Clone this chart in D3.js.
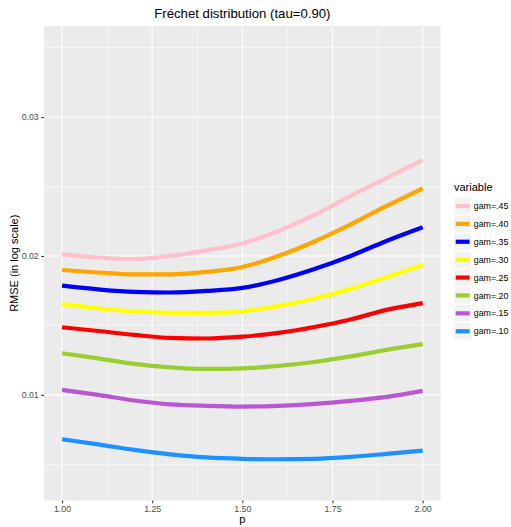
<!DOCTYPE html>
<html>
<head>
<meta charset="utf-8">
<script src="https://cdn.jsdelivr.net/npm/d3@7"></script>
<style>
  body { margin: 0; background: #fff; }
  text { font-family: "Liberation Sans", Arial, sans-serif; }
</style>
</head>
<body>
<script>
// data
var pValues = [1.0, 1.1, 1.2, 1.3, 1.4, 1.5, 1.6, 1.7, 1.8, 1.9, 2.0];
var gam45 = [0.02012, 0.01989, 0.01978, 0.02000, 0.02040, 0.02090, 0.02180, 0.02295, 0.02432, 0.02561, 0.02691];
var gam40 = [0.01899, 0.01881, 0.01867, 0.01867, 0.01885, 0.01921, 0.02000, 0.02104, 0.02227, 0.02360, 0.02487];
var gam35 = [0.01786, 0.01759, 0.01741, 0.01737, 0.01748, 0.01770, 0.01827, 0.01906, 0.02000, 0.02108, 0.02206];
var gam30 = [0.01653, 0.01622, 0.01601, 0.01590, 0.01590, 0.01601, 0.01640, 0.01694, 0.01763, 0.01849, 0.01935];
var gam25 = [0.01487, 0.01460, 0.01432, 0.01410, 0.01406, 0.01419, 0.01446, 0.01489, 0.01543, 0.01612, 0.01660];
var gam20 = [0.01300, 0.01263, 0.01223, 0.01198, 0.01187, 0.01191, 0.01209, 0.01237, 0.01277, 0.01324, 0.01365];
var gam15 = [0.01036, 0.01000, 0.00960, 0.00932, 0.00921, 0.00916, 0.00921, 0.00935, 0.00957, 0.00986, 0.01029];
var gam10 = [0.00681, 0.00644, 0.00604, 0.00572, 0.00550, 0.00540, 0.00537, 0.00540, 0.00554, 0.00576, 0.00599];

var seriesNames = ["gam=.45", "gam=.40", "gam=.35", "gam=.30", "gam=.25", "gam=.20", "gam=.15", "gam=.10"];
var seriesValues = [gam45, gam40, gam35, gam30, gam25, gam20, gam15, gam10];
var seriesColors = ["pink", "orange", "blue", "yellow", "red", "yellowgreen", "mediumorchid", "dodgerblue"];

var xTicks = [1.00, 1.25, 1.50, 1.75, 2.00];
var xMinor = [1.125, 1.375, 1.625, 1.875];
var yTicks = [0.01, 0.02, 0.03];
var yMinor = [0.005, 0.015, 0.025, 0.035];

var W = 511, H = 527;
var panel = { left: 44, right: 440.7, top: 26, bottom: 500.5 };

var svg = d3.select("body").append("svg")
    .attr("width", W)
    .attr("height", H);

var x = d3.scaleLinear().domain([0.95, 2.05]).range([panel.left, panel.right]);
var y = d3.scaleLinear().domain([0.0024, 0.03655]).range([panel.bottom, panel.top]);

// panel background
svg.append("rect")
    .attr("x", panel.left).attr("y", panel.top)
    .attr("width", panel.right - panel.left)
    .attr("height", panel.bottom - panel.top)
    .attr("fill", "#ebebeb");

// grid lines
var grid = svg.append("g");
yMinor.forEach(function (v) {
    grid.append("line")
        .attr("x1", panel.left).attr("x2", panel.right)
        .attr("y1", y(v)).attr("y2", y(v))
        .attr("stroke", "#fff").attr("stroke-width", 0.53);
});
xMinor.forEach(function (v) {
    grid.append("line")
        .attr("x1", x(v)).attr("x2", x(v))
        .attr("y1", panel.top).attr("y2", panel.bottom)
        .attr("stroke", "#fff").attr("stroke-width", 0.53);
});
yTicks.forEach(function (v) {
    grid.append("line")
        .attr("x1", panel.left).attr("x2", panel.right)
        .attr("y1", y(v)).attr("y2", y(v))
        .attr("stroke", "#fff").attr("stroke-width", 1.07);
});
xTicks.forEach(function (v) {
    grid.append("line")
        .attr("x1", x(v)).attr("x2", x(v))
        .attr("y1", panel.top).attr("y2", panel.bottom)
        .attr("stroke", "#fff").attr("stroke-width", 1.07);
});

// lines
var line = d3.line()
    .x(function (d, i) { return x(pValues[i]); })
    .y(function (d) { return y(d); })
    .curve(d3.curveMonotoneX);

// draw bottom series first so the order matches ggplot stacking
seriesValues.slice().reverse().forEach(function (vals, j) {
    var i = seriesValues.length - 1 - j;
    svg.append("path")
        .datum(vals)
        .attr("d", line)
        .attr("fill", "none")
        .attr("stroke", seriesColors[i])
        .attr("stroke-width", 4.2)
        .attr("stroke-linejoin", "round")
        .attr("stroke-linecap", "butt");
});

// axes
var xAxis = d3.axisBottom(x).tickValues(xTicks).tickFormat(d3.format(".2f")).tickSize(2.75).tickPadding(2.5);
var yAxis = d3.axisLeft(y).tickValues(yTicks).tickFormat(d3.format(".2f")).tickSize(2.75).tickPadding(2.5);

var gx = svg.append("g")
    .attr("transform", "translate(0," + panel.bottom + ")")
    .call(xAxis);
var gy = svg.append("g")
    .attr("transform", "translate(" + panel.left + ",0)")
    .call(yAxis);

[gx, gy].forEach(function (g) {
    g.select(".domain").remove();
    g.selectAll(".tick line").attr("stroke", "#333333").attr("stroke-width", 1.07);
    g.selectAll(".tick text")
        .attr("fill", "#4d4d4d")
        .style("font-size", "8.8px")
        .style("font-family", "'Liberation Sans', Arial, sans-serif");
});

// axis titles
svg.append("text")
    .attr("x", (panel.left + panel.right) / 2)
    .attr("y", 523)
    .attr("text-anchor", "middle")
    .style("font-size", "11px")
    .text("p");

svg.append("text")
    .attr("transform", "translate(17.5," + ((panel.top + panel.bottom) / 2) + ") rotate(-90)")
    .attr("text-anchor", "middle")
    .style("font-size", "11px")
    .text("RMSE (in log scale)");

// title
svg.append("text")
    .attr("x", (panel.left + panel.right) / 2)
    .attr("y", 18)
    .attr("text-anchor", "middle")
    .style("font-size", "13.2px")
    .text("Fréchet distribution (tau=0.90)");

// legend
var legend = svg.append("g").attr("transform", "translate(454,0)");
legend.append("text")
    .attr("x", 0)
    .attr("y", 191)
    .style("font-size", "11px")
    .text("variable");

var keyTop = 197.3, keyStep = 17.9, keySize = 17.3;
seriesNames.forEach(function (name, i) {
    var ky = keyTop + i * keyStep;
    legend.append("rect")
        .attr("x", 0).attr("y", ky)
        .attr("width", keySize).attr("height", keySize)
        .attr("fill", "#f2f2f2")
        .attr("stroke", "#fff").attr("stroke-width", 1);
    legend.append("line")
        .attr("x1", 1.7).attr("x2", keySize - 1.7)
        .attr("y1", ky + keySize / 2).attr("y2", ky + keySize / 2)
        .attr("stroke", seriesColors[i])
        .attr("stroke-width", 4.2);
    legend.append("text")
        .attr("x", keySize + 2.5)
        .attr("y", ky + keySize / 2 + 3.1)
        .style("font-size", "8.8px")
        .text(name);
});
</script>
</body>
</html>
